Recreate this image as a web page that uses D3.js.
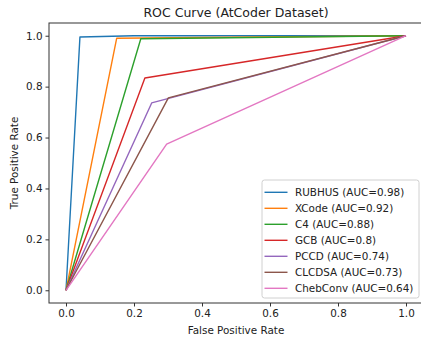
<!DOCTYPE html>
<html>
<head>
<meta charset="utf-8">
<script src="https://cdn.jsdelivr.net/npm/d3@7"></script>
<style>
  body { margin: 0; background: #fff; }
  text { font-family: "DejaVu Sans", sans-serif; fill: #222; }
</style>
</head>
<body>
<div id="chart"></div>
<script>
/* ROC curves, AtCoder dataset */

const models = ["RUBHUS", "XCode", "C4", "GCB", "PCCD", "CLCDSA", "ChebConv"];
const auc = [0.98, 0.92, 0.88, 0.8, 0.74, 0.73, 0.64];
const fpr = [
  [0, 0.041, 0.2, 1],
  [0, 0.149, 1],
  [0, 0.22, 1],
  [0, 0.232, 1],
  [0, 0.252, 1],
  [0, 0.301, 1],
  [0, 0.296, 1]
];
const tpr = [
  [0, 0.995, 1, 1],
  [0, 0.99, 1],
  [0, 0.988, 1],
  [0, 0.834, 1],
  [0, 0.736, 1],
  [0, 0.756, 1],
  [0, 0.574, 1]
];
const ticks = [0, 0.2, 0.4, 0.6, 0.8, 1.0];
const colors = ["#1f77b4", "#ff7f0e", "#2ca02c", "#d62728", "#9467bd", "#8c564b", "#e377c2"];

const width = 421, height = 338,
    margin = ({ top: 23, right: -2, bottom: 35, left: 49 }),
    fs = 10.4;

const svg = d3.select("#chart")
    .append("svg")
    .attr("width", width)
    .attr("height", height);

let x = d3.scaleLinear()
    .domain([-0.05, 1.05])
    .range([margin.left, width - margin.right]);

let y = d3.scaleLinear()
    .domain([-0.05, 1.05])
    .range([height - margin.bottom, margin.top]);

/* axes */
let xAxis = svg.append("g")
    .attr("transform", `translate(0,${height - margin.bottom})`)
    .call(d3.axisBottom(x).tickValues(ticks).tickFormat(d3.format(".1f")).tickSize(3.5).tickPadding(3));

let yAxis = svg.append("g")
    .attr("transform", `translate(${margin.left},0)`)
    .call(d3.axisLeft(y).tickValues(ticks).tickFormat(d3.format(".1f")).tickSize(3.5).tickPadding(3));

for (let g of [xAxis, yAxis]) {
  g.select(".domain").remove();
  g.selectAll("line").attr("stroke", "#333");
  g.selectAll("text").attr("font-size", fs).attr("font-family", "DejaVu Sans").attr("fill", "#222");
}

/* curves */
let line = d3.line()
    .x(d => x(d[0]))
    .y(d => y(d[1]));

models.forEach((m, i) => {
  svg.append("path")
    .datum(d3.zip(fpr[i], tpr[i]))
    .attr("d", line)
    .attr("fill", "none")
    .attr("stroke", colors[i])
    .attr("stroke-width", 1.4)
    .attr("stroke-linejoin", "round");
});

/* spines */
svg.append("rect")
    .attr("x", margin.left)
    .attr("y", margin.top)
    .attr("width", width - margin.right - margin.left)
    .attr("height", height - margin.bottom - margin.top)
    .attr("fill", "none")
    .attr("stroke", "#333")
    .attr("stroke-width", 1);

/* labels */
svg.append("text")
    .attr("x", (margin.left + width - margin.right) / 2)
    .attr("y", 17)
    .attr("text-anchor", "middle")
    .attr("font-size", 12.5)
    .text("ROC Curve (AtCoder Dataset)");

svg.append("text")
    .attr("x", (margin.left + width - margin.right) / 2)
    .attr("y", 334)
    .attr("text-anchor", "middle")
    .attr("font-size", fs)
    .text("False Positive Rate");

svg.append("text")
    .attr("transform", `translate(18,${(margin.top + height - margin.bottom) / 2}) rotate(-90)`)
    .attr("text-anchor", "middle")
    .attr("font-size", fs)
    .text("True Positive Rate");

/* legend */
let legend = svg.append("g").attr("transform", "translate(262,180)");

legend.append("rect")
    .attr("width", 157)
    .attr("height", 118)
    .attr("rx", 2.5)
    .attr("fill", "#fff")
    .attr("fill-opacity", 0.8)
    .attr("stroke", "#d0d0d0")
    .attr("stroke-width", 1);

models.forEach((m, i) => {
  let row = legend.append("g").attr("transform", `translate(0,${12.3 + i * 16})`);
  row.append("line")
    .attr("x1", 2.5).attr("x2", 25.5)
    .attr("stroke", colors[i])
    .attr("stroke-width", 1.4);
  row.append("text")
    .attr("x", 33)
    .attr("dy", "0.35em")
    .attr("font-size", fs)
    .text(`${m} (AUC=${auc[i]})`);
});
</script>
</body>
</html>
